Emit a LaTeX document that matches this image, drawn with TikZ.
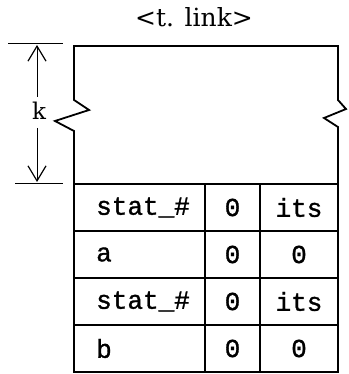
\documentclass[tikz,border=0pt]{standalone}
\usepackage{fontspec}
\setmainfont{DejaVu Serif}
\setmonofont[FakeBold=1.2]{Liberation Mono}
\usetikzlibrary{arrows.meta}

\tikzset{
  bord/.style={line width=1.8pt},
  cote/.style={line width=1pt},
  champ/.style={font=\ttfamily\fontsize{26}{28}\selectfont, inner sep=0pt},
}

\begin{document}
\begin{tikzpicture}[x=1pt,y=-1pt]
\useasboundingbox (0,0) rectangle (348,374);
% titre au dessus du bloc
\node[font=\fontsize{25}{27}\selectfont] (titre) at (194,17) {<t. link>};
% le bloc de hauteur k, avec les deux ruptures
\draw[bord] (74,184) -- (74,131) -- (55,121) -- (89,110) -- (74,100) -- (74,46)
  -- (338,46) -- (338,100) -- (346,109) -- (324,118) -- (338,127) -- (338,372);
% la table sous le bloc
\draw[bord] (74,184) rectangle (338,372);
\foreach \y in {231,278,325} \draw[bord] (74,\y) -- (338,\y);
\draw[bord] (205,184) -- (205,372);
\draw[bord] (260,184) -- (260,372);
% la cote k a gauche
\draw[cote] (8,44) -- (63,44);
\draw[cote] (15,183) -- (63,183);
\node[font=\fontsize{23}{24}\selectfont, inner sep=2pt] (k) at (39,111) {k};
\coordinate (haut) at (37,45);
\coordinate (bas) at (37,182);
\draw[cote, -{Straight Barb[length=15pt,width=18pt,line width=1.2pt]}] (37,97) -- (haut);
\draw[cote, -{Straight Barb[length=15pt,width=18pt,line width=1.2pt]}] (37,128) -- (bas);
% contenu des cases
\node[champ, anchor=west] (s1) at (96,207.5) {stat\_\#};
\node[champ] (z1) at (232.5,207.5) {0};
\node[champ] (i1) at (299,207.5) {its};
\node[champ, anchor=west] (a) at (96,254.5) {a};
\node[champ] (z2) at (232.5,254.5) {0};
\node[champ] (z3) at (299,254.5) {0};
\node[champ, anchor=west] (s2) at (96,301.5) {stat\_\#};
\node[champ] (z4) at (232.5,301.5) {0};
\node[champ] (i2) at (299,301.5) {its};
\node[champ, anchor=west] (b) at (96,348.5) {b};
\node[champ] (z5) at (232.5,348.5) {0};
\node[champ] (z6) at (299,348.5) {0};
\end{tikzpicture}
\end{document}
